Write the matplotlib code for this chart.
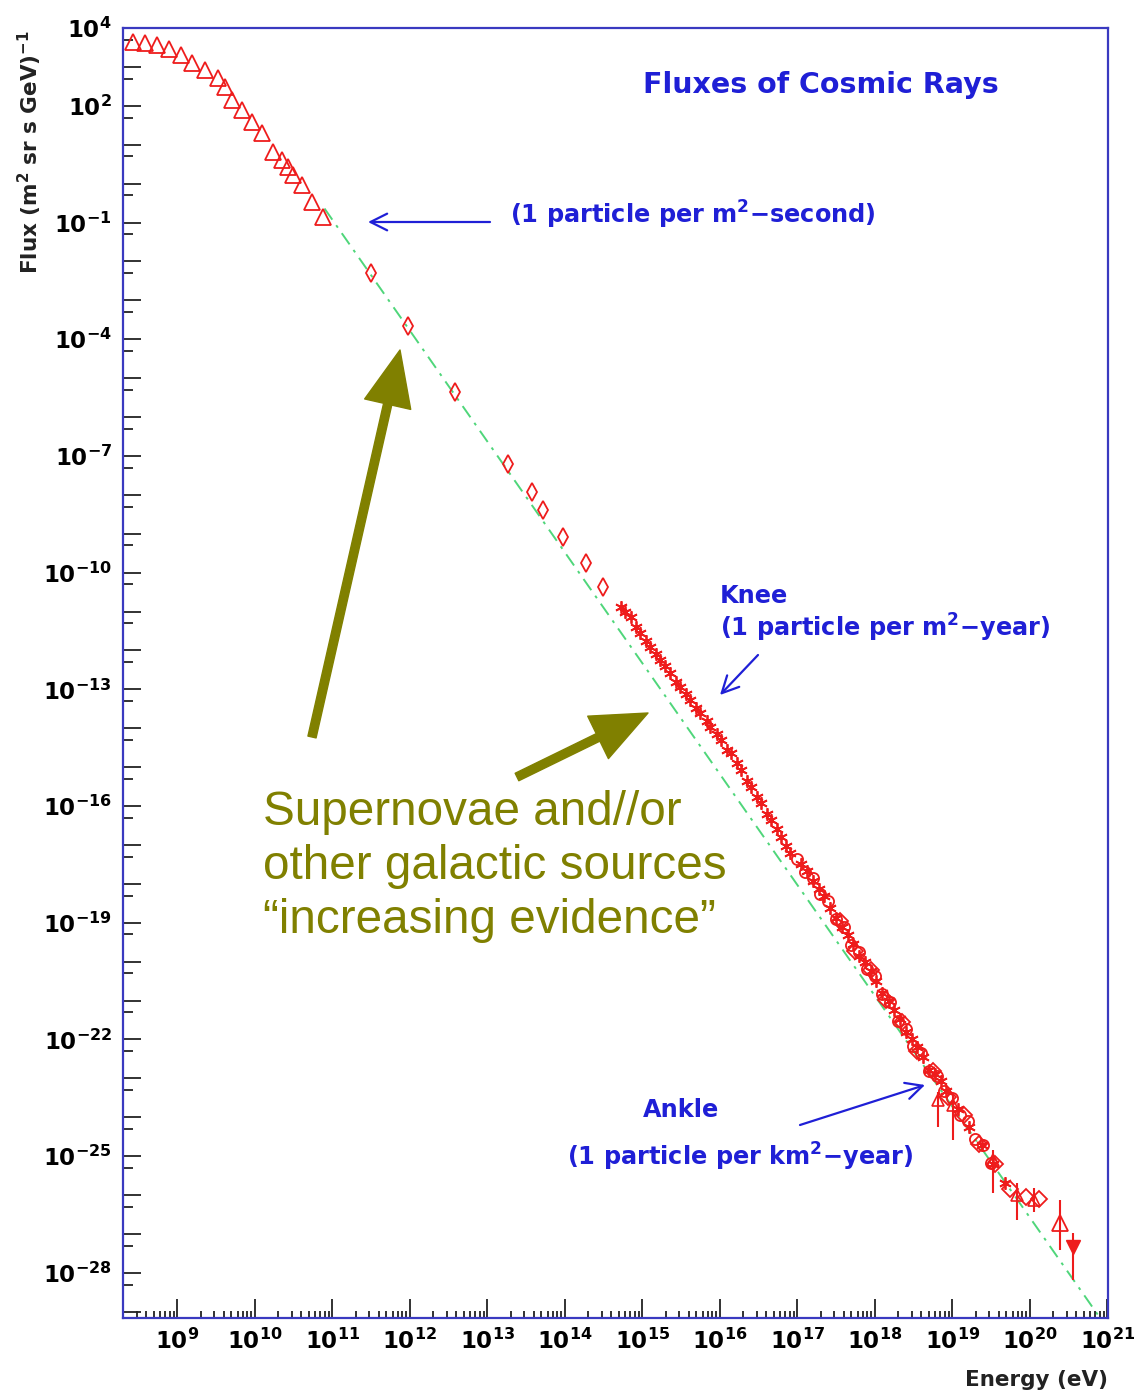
import numpy as np
import matplotlib
matplotlib.use("Agg")
import matplotlib.pyplot as plt
from matplotlib.patches import FancyArrowPatch

# ---------------- data (log10 E [eV], log10 flux [(m^2 sr s GeV)^-1]) ----------------
tri_logE = [8.43, 8.59, 8.74, 8.90, 9.05, 9.19, 9.36, 9.52, 9.62, 9.71,
            9.84, 9.97, 10.10, 10.24, 10.35, 10.43, 10.50, 10.61, 10.74, 10.88]
tri_logF = [3.64, 3.61, 3.56, 3.46, 3.31, 3.10, 2.92, 2.71, 2.48, 2.15,
            1.89, 1.58, 1.30, 0.81, 0.61, 0.43, 0.22, -0.04, -0.47, -0.86]

dia_logE = [11.50, 11.98, 12.59, 13.27, 13.58, 13.72, 13.98, 14.28, 14.50]
dia_logF = [-2.30, -3.66, -5.36, -7.20, -7.92, -8.38, -9.08, -9.75, -10.37]

star_logE = [14.72, 14.85, 14.97, 15.10, 15.23, 15.36, 15.49, 15.62, 15.75, 15.88,
             16.01, 16.14, 16.27, 16.40, 16.53, 16.66, 16.79, 16.91, 17.05, 17.20]
star_logF = [-10.88, -11.14, -11.55, -11.91, -12.25, -12.58, -12.94, -13.28, -13.61, -13.97,
             -14.30, -14.64, -15.07, -15.50, -15.93, -16.36, -16.79, -17.20, -17.50, -17.92]

star2_logE = [14.78, 14.92, 15.05, 15.18, 15.30, 15.44, 15.57, 15.70, 15.83, 15.96,
              16.10, 16.22, 16.35, 16.48, 16.61, 16.74, 16.86, 17.35, 17.50, 17.65,
              17.80, 17.95, 18.10, 18.25, 18.40, 18.55, 18.70, 18.85]
star2_logF = [-11.00, -11.40, -11.76, -12.10, -12.40, -12.80, -13.12, -13.48, -13.82, -14.15,
              -14.55, -14.90, -15.35, -15.76, -16.20, -16.60, -17.02, -18.30, -18.88, -19.32,
              -19.86, -20.24, -20.80, -21.24, -21.82, -22.20, -22.78, -23.08]

star3_logE = [17.12, 17.28, 17.42, 17.58, 17.72, 17.88, 18.02, 18.18, 18.32, 18.48,
              18.62, 18.78, 18.92, 19.08, 19.22, 19.38, 19.52, 19.68]
star3_logF = [-17.68, -18.12, -18.62, -19.10, -19.55, -20.02, -20.50, -21.00, -21.48, -21.98,
              -22.45, -22.90, -23.32, -23.78, -24.25, -24.72, -25.20, -25.68]

circ_logE = [17.0, 17.1, 17.2, 17.3, 17.4, 17.5, 17.6, 17.7, 17.8, 17.9, 18.0, 18.1, 18.2,
             18.3, 18.4, 18.5, 18.6, 18.7, 18.8, 18.9, 19.0, 19.1, 19.2, 19.3, 19.4, 19.5]
circ_logF = [-17.35, -17.70, -17.85, -18.25, -18.45, -18.90, -19.12, -19.58, -19.76, -20.18,
             -20.38, -20.82, -21.04, -21.52, -21.72, -22.16, -22.35, -22.80, -22.95, -23.33,
             -23.50, -23.95, -24.10, -24.55, -24.72, -25.18]

dia2_logE = [17.55, 17.75, 17.95, 18.15, 18.35, 18.55, 18.75, 18.95, 19.15, 19.35,
             19.55, 19.75, 19.95, 20.12]
dia2_logF = [-18.95, -19.72, -20.22, -20.98, -21.55, -22.30, -22.80, -23.48, -23.95, -24.70,
             -25.20, -25.85, -26.05, -26.10]

err_logE = [18.81, 19.01, 19.53, 19.84, 20.05]
err_logF = [-23.56, -23.69, -25.10, -26.00, -26.13]
err_lo = [0.70, 0.90, 0.85, 0.65, 0.30]
err_hi = [0.20, 0.30, 0.25, 0.30, 0.30]

hi_logE = [20.39]
hi_logF = [-26.72]
hi_lo = [0.69]
hi_hi = [0.59]

lim_logE = [20.56]
lim_logF = [-27.34]
lim_lo = [0.85]
lim_hi = [0.36]

line_logE = [10.90, 20.95]
line_logF = [-0.64, -29.28]

ytick_exp = [4, 2, -1, -4, -7, -10, -13, -16, -19, -22, -25, -28]
xtick_exp = list(range(9, 22))

# ---------------- style ----------------
RED = "#ee1c1c"
BLUE = "#1f1fd6"
FRAME = "#3a3ac0"
OLIVE = "#808000"
GREEN = "#4fd67a"

W, H = 1140, 1395
fig = plt.figure(figsize=(W / 100, H / 100), dpi=100)
ax = fig.add_axes([123 / W, 1 - 1318 / H, (1108 - 123) / W, (1318 - 28) / H])


def p(v):
    return 10.0 ** np.asarray(v, dtype=float)


def fx(px):
    return px / W


def fy(py):
    return 1 - py / H


ax.set_xscale("log")
ax.set_yscale("log")

# reference power law
ax.plot(p(line_logE), p(line_logF), color=GREEN, lw=1.4,
        linestyle=(0, (7, 3.5, 1.5, 3.5)), zorder=1)

mk = dict(linestyle="none", color=RED, mfc="none", mec=RED)
ax.plot(p(tri_logE), p(tri_logF), marker="^", ms=11, mew=1.3, **mk)
ax.plot(p(dia_logE), p(dia_logF), marker="d", ms=9, mew=1.3, **mk)
ax.plot(p(star_logE), p(star_logF), marker=(6, 2, 0), ms=9, mew=1.3, **mk)
ax.plot(p(star2_logE), p(star2_logF), marker=(6, 2, 0), ms=9, mew=1.3, **mk)
ax.plot(p(star3_logE), p(star3_logF), marker=(6, 2, 0), ms=9, mew=1.3, **mk)
ax.plot(p(circ_logE), p(circ_logF), marker="o", ms=8, mew=1.3, **mk)
ax.plot(p(dia2_logE), p(dia2_logF), marker="D", ms=8, mew=1.3, **mk)


def yerr(lf, lo, hi):
    lf = np.asarray(lf, float)
    return [p(lf) - p(lf - np.asarray(lo)), p(lf + np.asarray(hi)) - p(lf)]


ax.errorbar(p(err_logE), p(err_logF), yerr=yerr(err_logF, err_lo, err_hi),
            fmt="^", ms=9, mfc="none", mec=RED, ecolor=RED, elinewidth=1.5, capsize=0, mew=1.2)
ax.errorbar(p(hi_logE), p(hi_logF), yerr=yerr(hi_logF, hi_lo, hi_hi),
            fmt="^", ms=11, mfc="none", mec=RED, ecolor=RED, elinewidth=1.5, capsize=0, mew=1.3)
ax.errorbar(p(lim_logE), p(lim_logF), yerr=yerr(lim_logF, lim_lo, lim_hi),
            fmt="v", ms=10, mfc=RED, mec=RED, ecolor=RED, elinewidth=1.5, capsize=0)

# ---------------- axes / ticks ----------------
for s in ax.spines.values():
    s.set_color(FRAME)
    s.set_linewidth(1.6)

ydec = np.arange(-29, 5)
ax.set_yticks(p(ydec))
ax.set_yticklabels([r"$\mathbf{10^{%d}}$" % e if e in ytick_exp else "" for e in ydec])
ax.set_yticks(0.5 * p(ydec[1:]), minor=True)
ax.yaxis.set_minor_formatter(matplotlib.ticker.NullFormatter())

xdec = np.arange(8, 22)
ax.set_xticks(p(xtick_exp))
ax.set_xticklabels([r"$\mathbf{10^{%d}}$" % e for e in xtick_exp])
xminor = [m * 10.0 ** d for d in xdec for m in range(2, 10)]
ax.set_xticks(xminor, minor=True)
ax.xaxis.set_minor_formatter(matplotlib.ticker.NullFormatter())

# limits after ticks (set_ticks may widen the view)
ax.set_xlim(10 ** 8.3, 10 ** 21.01)
ax.set_ylim(10 ** -29.16, 1e4)

ax.tick_params(axis="both", which="both", direction="in", color="#222222", width=1.3,
               top=False, right=False)
ax.tick_params(axis="y", which="major", length=13, pad=8, labelsize=16.5)
ax.tick_params(axis="y", which="minor", length=7)
ax.tick_params(axis="x", which="major", length=14, pad=8, labelsize=16.5)
ax.tick_params(axis="x", which="minor", length=5)

fig.text(fx(1108), fy(1380), "Energy (eV)", ha="right", va="center",
         fontsize=15.5, fontweight="bold", color="#222222")
fig.text(fx(30), fy(30), r"Flux (m$^{\mathbf{2}}$ sr s GeV)$^{\mathbf{-1}}$", rotation=90,
         ha="center", va="top", fontsize=15.5, fontweight="bold", color="#222222")

# ---------------- blue annotations ----------------
bt = dict(color=BLUE, fontsize=17.3, fontweight="bold", va="center", ha="left")
fig.text(fx(643), fy(85), "Fluxes of Cosmic Rays", **dict(bt, fontsize=20.5))
fig.text(fx(510), fy(215), r"(1 particle per m$^{\mathbf{2}}$−second)", **bt)
fig.text(fx(720), fy(596), "Knee", **bt)
fig.text(fx(720), fy(628), r"(1 particle per m$^{\mathbf{2}}$−year)", **bt)
fig.text(fx(643), fy(1110), "Ankle", **bt)
fig.text(fx(567), fy(1157), r"(1 particle per km$^{\mathbf{2}}$−year)", **bt)


def farrow(p0, p1, **kw):
    a = FancyArrowPatch((fx(p0[0]), fy(p0[1])), (fx(p1[0]), fy(p1[1])),
                        transform=fig.transFigure, **kw)
    fig.patches.append(a)


barrow = dict(arrowstyle="->,head_length=0.6,head_width=0.3", color=BLUE, lw=1.6,
              mutation_scale=20, shrinkA=0, shrinkB=0)
farrow((490, 222), (368, 222), **barrow)
farrow((758, 655), (720, 695), **barrow)
farrow((800, 1125), (925, 1085), **barrow)

# ---------------- olive annotations ----------------
oarrow = dict(arrowstyle="simple,head_length=1.0,head_width=0.85,tail_width=0.15",
              color=OLIVE, mutation_scale=40, shrinkA=0, shrinkB=0)
farrow((312, 737), (400, 350), **oarrow)
farrow((517, 777), (648, 713), **oarrow)

ot = dict(color=OLIVE, fontsize=34.3, family="Liberation Sans", ha="left", va="baseline")
fig.text(fx(263), fy(825), "Supernovae and//or", **ot)
fig.text(fx(263), fy(879), "other galactic sources", **ot)
fig.text(fx(263), fy(933), "\u201cincreasing evidence\u201d", **ot)

fig.savefig("out.png", dpi=100, facecolor="white")
